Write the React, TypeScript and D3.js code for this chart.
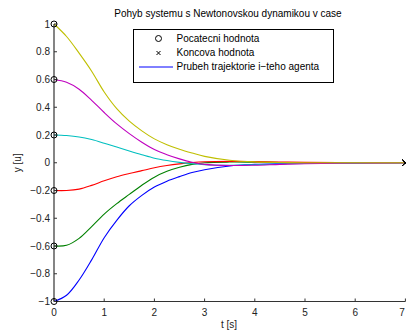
import React from "react";
import * as d3 from "d3";

const times = [0, 0.25, 0.5, 0.75, 1, 1.25, 1.5, 1.75, 2, 2.25, 2.5, 2.75, 3, 3.5, 4, 4.5, 5, 6, 7];

const agentBlue = [-1, -0.955, -0.845, -0.7, -0.54, -0.415, -0.31, -0.235, -0.175, -0.133, -0.1, -0.07, -0.05, -0.023, -0.012, -0.007, -0.004, -0.001, 0];
const agentGreen = [-0.6, -0.595, -0.545, -0.46, -0.37, -0.295, -0.228, -0.162, -0.104, -0.062, -0.033, -0.012, 0.0, 0.005, 0.004, 0.002, 0.001, 0, 0];
const agentRed = [-0.2, -0.2, -0.19, -0.163, -0.13, -0.101, -0.078, -0.057, -0.036, -0.02, -0.008, 0.001, 0.007, 0.01, 0.008, 0.005, 0.003, 0.001, 0];
const agentCyan = [0.2, 0.196, 0.186, 0.167, 0.141, 0.113, 0.085, 0.058, 0.033, 0.016, 0.003, -0.007, -0.014, -0.018, -0.014, -0.009, -0.005, -0.001, 0];
const agentMagenta = [0.6, 0.58, 0.53, 0.45, 0.362, 0.28, 0.21, 0.148, 0.095, 0.058, 0.028, 0.004, -0.012, -0.02, -0.018, -0.012, -0.007, -0.002, 0];
const agentYellow = [1, 0.91, 0.79, 0.66, 0.51, 0.39, 0.3, 0.23, 0.172, 0.13, 0.097, 0.07, 0.046, 0.018, 0.006, 0.002, 0, 0, 0];

const seriesList = [agentBlue, agentGreen, agentRed, agentCyan, agentMagenta, agentYellow];
const seriesColors = ["#0000FF", "#008000", "#FF0000", "#00BFBF", "#BF00BF", "#BFBF00"];

const xTicks = [0, 1, 2, 3, 4, 5, 6, 7];
const yTicks = [-1, -0.8, -0.6, -0.4, -0.2, 0, 0.2, 0.4, 0.6, 0.8, 1];

const titleText = "Pohyb systemu s Newtonovskou dynamikou v case";
const xLabel = "t [s]";
const yLabel = "y [u]";
const legendLabels = ["Pocatecni hodnota", "Koncova hodnota", "Prubeh trajektorie i\u2212teho agenta"];

const fmt = (v: number) => {
  const s = String(Math.round(v * 10) / 10);
  return s.replace("-", "\u2212");
};

export default function App() {
  const W = 406, H = 334;
  const x = d3.scaleLinear().domain([0, 7]).range([54, 405.4]);
  const y = d3.scaleLinear().domain([-1, 1]).range([301.5, 24]);
  const line = d3
    .line<number>()
    .x((_, i) => x(times[i]))
    .y((d) => y(d))
    .curve(d3.curveCatmullRom.alpha(0.5));

  const font = "'Liberation Sans', Arial, Helvetica, sans-serif";
  const axisColor = "#333";
  const tickLen = 3;

  return (
    <svg
      width={W}
      height={H}
      style={{ position: "absolute", left: 0, top: 0, background: "#fff" }}
      fontFamily={font}
    >
      <rect x={0} y={0} width={W} height={H} fill="#fff" />
      <text x={228} y={17} fontSize={10} textAnchor="middle" fill="#000">
        {titleText}
      </text>

      {seriesList.map((s, i) => (
        <path key={i} d={line(s) || ""} fill="none" stroke={seriesColors[i]} strokeWidth={1.1} />
      ))}

      <line x1={x(0)} x2={x(0)} y1={y(1)} y2={y(-1)} stroke={axisColor} strokeWidth={1.2} />
      <line x1={x(0)} x2={x(7)} y1={y(-1)} y2={y(-1)} stroke={axisColor} strokeWidth={1.2} />
      {yTicks.map((t) => (
        <g key={"y" + t}>
          <line x1={x(0)} x2={x(0) + tickLen} y1={y(t)} y2={y(t)} stroke={axisColor} strokeWidth={1} />
          <text x={50} y={y(t) + 3.5} fontSize={10} textAnchor="end" fill="#222">
            {fmt(t)}
          </text>
        </g>
      ))}
      {xTicks.map((t) => (
        <g key={"x" + t}>
          <line x1={x(t)} x2={x(t)} y1={y(-1)} y2={y(-1) - tickLen} stroke={axisColor} strokeWidth={1} />
          <text x={Math.min(x(t), 402)} y={315.5} fontSize={10} textAnchor="middle" fill="#222">
            {t}
          </text>
        </g>
      ))}
      <text x={229} y={328} fontSize={10} textAnchor="middle" fill="#222">
        {xLabel}
      </text>
      <text
        transform={`translate(21,${y(0)}) rotate(-90)`}
        fontSize={10}
        textAnchor="middle"
        fill="#222"
      >
        {yLabel}
      </text>

      {seriesList.map((s, i) => (
        <circle key={"c" + i} cx={x(times[0])} cy={y(s[0])} r={3} fill="none" stroke="#000" strokeWidth={1} />
      ))}
      {seriesList.map((s, i) => {
        const cx = x(times[times.length - 1]);
        const cy = y(s[s.length - 1]);
        return (
          <g key={"e" + i} stroke="#000" strokeWidth={1}>
            <line x1={cx - 3} x2={cx + 3} y1={cy - 3} y2={cy + 3} />
            <line x1={cx - 3} x2={cx + 3} y1={cy + 3} y2={cy - 3} />
          </g>
        );
      })}

      <rect x={133.5} y={29.5} width={200} height={53} fill="#fff" stroke="#000" strokeWidth={1} />
      <circle cx={158.5} cy={38.5} r={3} fill="none" stroke="#000" strokeWidth={1} />
      <g stroke="#000" strokeWidth={1}>
        <line x1={156.5} x2={160.5} y1={51} y2={55} />
        <line x1={156.5} x2={160.5} y1={55} y2={51} />
      </g>
      <line x1={139} x2={173} y1={67} y2={67} stroke="#0000FF" strokeWidth={1} />
      {legendLabels.map((l, i) => (
        <text key={l} x={176.5} y={42 + i * 14} fontSize={10} fill="#000">
          {l}
        </text>
      ))}
    </svg>
  );
}
